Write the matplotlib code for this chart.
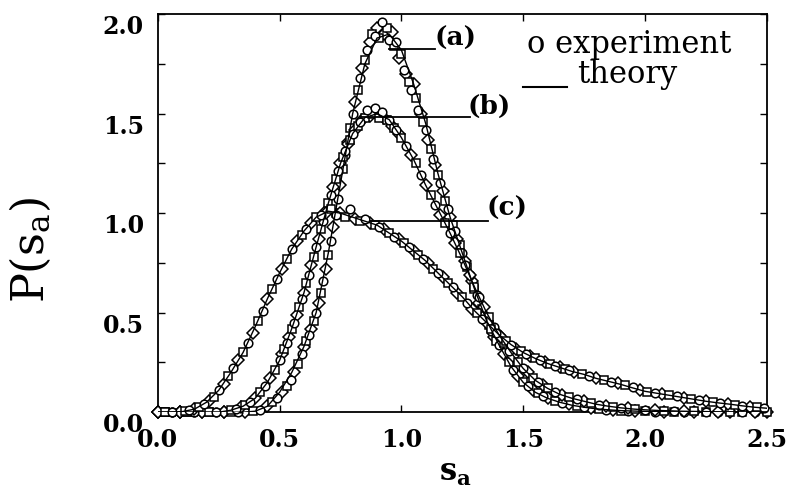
import matplotlib
matplotlib.use("Agg")
import matplotlib.pyplot as plt
from matplotlib.ticker import MultipleLocator, FixedLocator

plt.rcParams['mathtext.fontset'] = 'dejavuserif'
plt.rcParams['font.family'] = ['DejaVu Serif']

# ---------------- data ----------------
x_theory = [0.0, 0.05, 0.1, 0.15, 0.2, 0.25, 0.3, 0.35, 0.4, 0.45, 0.5, 0.55, 0.6, 0.65, 0.7,
            0.75, 0.8, 0.85, 0.9, 0.95, 1.0, 1.05, 1.1, 1.15, 1.2, 1.25, 1.3, 1.35, 1.4, 1.45,
            1.5, 1.55, 1.6, 1.65, 1.7, 1.75, 1.8, 1.85, 1.9, 1.95, 2.0, 2.05, 2.1, 2.15, 2.2,
            2.25, 2.3, 2.35, 2.4, 2.45, 2.5]
theory_a = [0, 0, 0, 0, 0, 0, 0, 0, 0.005, 0.03, 0.1, 0.2, 0.33, 0.5, 0.8,
            1.15, 1.5, 1.75, 1.88, 1.9, 1.82, 1.65, 1.45, 1.2, 0.98, 0.8, 0.62, 0.46, 0.34, 0.23,
            0.15, 0.1, 0.07, 0.05, 0.035, 0.025, 0.017, 0.012, 0.008, 0.006, 0.004, 0.003, 0.002, 0.001, 0.001,
            0, 0, 0, 0, 0, 0]
theory_b = [0, 0, 0, 0, 0, 0, 0.01, 0.03, 0.07, 0.15, 0.26, 0.42, 0.6, 0.83, 1.05,
            1.25, 1.4, 1.48, 1.5, 1.47, 1.38, 1.27, 1.14, 1.02, 0.9, 0.77, 0.63, 0.5, 0.39, 0.3,
            0.22, 0.16, 0.12, 0.09, 0.07, 0.055, 0.04, 0.03, 0.022, 0.016, 0.012, 0.009, 0.007, 0.005, 0.004,
            0.003, 0.002, 0.002, 0.001, 0.001, 0.001]
theory_c = [0, 0, 0.003, 0.015, 0.05, 0.11, 0.2, 0.3, 0.43, 0.57, 0.7, 0.82, 0.91, 0.98, 1.01,
            1.0, 0.98, 0.96, 0.94, 0.9, 0.86, 0.81, 0.76, 0.7, 0.64, 0.58, 0.51, 0.45, 0.39, 0.34,
            0.3, 0.27, 0.245, 0.225, 0.205, 0.19, 0.17, 0.155, 0.14, 0.122, 0.105, 0.095, 0.085, 0.075, 0.065,
            0.055, 0.047, 0.04, 0.032, 0.025, 0.02]

exp_a_x = [0.0, 0.03, 0.06, 0.09, 0.12, 0.15, 0.18, 0.21, 0.24, 0.27, 0.3, 0.33, 0.36, 0.39, 0.42,
           0.45, 0.47, 0.49, 0.51, 0.53, 0.545, 0.56, 0.575, 0.59, 0.6, 0.61, 0.62, 0.63, 0.64, 0.65,
           0.66, 0.67, 0.68, 0.69, 0.7, 0.71, 0.72, 0.73, 0.74, 0.75, 0.76, 0.77, 0.78, 0.79, 0.8,
           0.81, 0.82, 0.83, 0.84, 0.85, 0.86, 0.87, 0.88, 0.89, 0.9, 0.91, 0.92, 0.93, 0.94, 0.95,
           0.96, 0.97, 0.98, 0.99, 1.0, 1.01, 1.02, 1.03, 1.04, 1.05, 1.06, 1.07, 1.08, 1.09, 1.1,
           1.11, 1.12, 1.13, 1.14, 1.15, 1.16, 1.17, 1.18, 1.19, 1.2, 1.21, 1.22, 1.23, 1.24, 1.25,
           1.26, 1.27, 1.28, 1.29, 1.3, 1.31, 1.32, 1.33, 1.34, 1.35, 1.36, 1.37, 1.38, 1.39, 1.4,
           1.42, 1.44, 1.46, 1.48, 1.5, 1.52, 1.54, 1.56, 1.58, 1.6, 1.63, 1.66, 1.69, 1.72, 1.75,
           1.78, 1.81, 1.84, 1.87, 1.9, 1.93, 1.96, 2.0, 2.04, 2.08, 2.12, 2.16, 2.2, 2.25, 2.3,
           2.35, 2.4, 2.45, 2.5]
exp_a_y = [0, 0, 0, 0, 0, 0, 0, 0, 0, 0, 0, 0, 0.002, 0.004, 0.01,
           0.03, 0.05, 0.07, 0.1, 0.13, 0.16, 0.2, 0.24, 0.29, 0.33, 0.36, 0.39, 0.42, 0.46, 0.5,
           0.55, 0.6, 0.66, 0.72, 0.79, 0.86, 0.93, 1.0, 1.07, 1.14, 1.22, 1.29, 1.36, 1.43, 1.5,
           1.56, 1.62, 1.68, 1.73, 1.77, 1.82, 1.86, 1.9, 1.89, 1.93, 1.88, 1.96, 1.9, 1.93, 1.87,
           1.91, 1.84, 1.86, 1.78, 1.8, 1.72, 1.7, 1.66, 1.62, 1.65, 1.58, 1.52, 1.5, 1.46, 1.42,
           1.37, 1.32, 1.27, 1.24, 1.19, 1.15, 1.11, 1.06, 1.02, 0.98, 0.94, 0.91, 0.87, 0.84, 0.8,
           0.76, 0.73, 0.69, 0.66, 0.62, 0.59, 0.55, 0.52, 0.49, 0.46, 0.44, 0.41, 0.38, 0.36, 0.34,
           0.29, 0.25, 0.21, 0.18, 0.15, 0.13, 0.11, 0.095, 0.08, 0.07, 0.058, 0.048, 0.04, 0.032, 0.025,
           0.02, 0.016, 0.012, 0.01, 0.008, 0.007, 0.006, 0.004, 0.003, 0.002, 0.002, 0.001, 0.001, 0, 0,
           0, 0, 0, 0]

exp_b_x = [0.0, 0.03, 0.06, 0.09, 0.12, 0.15, 0.18, 0.21, 0.24, 0.27, 0.3, 0.32, 0.34, 0.36, 0.38,
           0.4, 0.42, 0.44, 0.46, 0.48, 0.5, 0.51, 0.52, 0.53, 0.54, 0.55, 0.56, 0.57, 0.58, 0.59,
           0.6, 0.61, 0.62, 0.63, 0.64, 0.65, 0.66, 0.67, 0.68, 0.69, 0.7, 0.71, 0.72, 0.73, 0.74,
           0.75, 0.76, 0.77, 0.78, 0.79, 0.8, 0.81, 0.82, 0.83, 0.84, 0.85, 0.86, 0.87, 0.88, 0.89,
           0.9, 0.91, 0.92, 0.93, 0.94, 0.95, 0.96, 0.97, 0.98, 0.99, 1.0, 1.02, 1.04, 1.06, 1.08,
           1.1, 1.12, 1.14, 1.16, 1.18, 1.2, 1.22, 1.24, 1.26, 1.28, 1.3, 1.32, 1.34, 1.36, 1.38,
           1.4, 1.42, 1.44, 1.46, 1.48, 1.5, 1.52, 1.54, 1.56, 1.58, 1.6, 1.63, 1.66, 1.69, 1.72,
           1.75, 1.78, 1.81, 1.84, 1.87, 1.9, 1.93, 1.96, 2.0, 2.04, 2.08, 2.12, 2.16, 2.2, 2.25,
           2.3, 2.35, 2.4, 2.45, 2.5]
exp_b_y = [0, 0, 0, 0, 0, 0, 0, 0, 0, 0.002, 0.01, 0.015, 0.025, 0.035, 0.05,
           0.07, 0.1, 0.13, 0.17, 0.21, 0.26, 0.29, 0.32, 0.35, 0.38, 0.42, 0.45, 0.49, 0.53, 0.57,
           0.6, 0.65, 0.69, 0.74, 0.78, 0.83, 0.87, 0.92, 0.96, 1.01, 1.05, 1.09, 1.13, 1.17, 1.21,
           1.25, 1.28, 1.31, 1.35, 1.37, 1.4, 1.42, 1.44, 1.46, 1.47, 1.48, 1.52, 1.49, 1.5, 1.53,
           1.5, 1.48, 1.51, 1.48, 1.47, 1.47, 1.44, 1.43, 1.42, 1.4, 1.38, 1.34, 1.29, 1.25, 1.19,
           1.14, 1.09, 1.04, 0.99, 0.95, 0.9, 0.85, 0.8, 0.74, 0.69, 0.63, 0.58, 0.53, 0.48, 0.43,
           0.39, 0.35, 0.31, 0.28, 0.25, 0.22, 0.2, 0.17, 0.15, 0.135, 0.12, 0.1, 0.085, 0.075, 0.065,
           0.055, 0.045, 0.037, 0.031, 0.026, 0.022, 0.019, 0.016, 0.012, 0.01, 0.008, 0.006, 0.005, 0.004, 0.003,
           0.002, 0.002, 0.001, 0.001, 0.001]

exp_c_x = [0.0, 0.03, 0.06, 0.09, 0.11, 0.13, 0.15, 0.17, 0.19, 0.21, 0.23, 0.25, 0.27, 0.29, 0.31,
           0.33, 0.35, 0.37, 0.39, 0.41, 0.43, 0.45, 0.47, 0.49, 0.51, 0.53, 0.55, 0.57, 0.59, 0.61,
           0.63, 0.65, 0.67, 0.69, 0.71, 0.73, 0.75, 0.77, 0.79, 0.81, 0.83, 0.85, 0.87, 0.89, 0.91,
           0.93, 0.95, 0.97, 0.99, 1.01, 1.03, 1.05, 1.07, 1.09, 1.11, 1.13, 1.15, 1.17, 1.19, 1.21,
           1.23, 1.25, 1.27, 1.29, 1.31, 1.33, 1.35, 1.37, 1.39, 1.41, 1.43, 1.45, 1.47, 1.49, 1.51,
           1.53, 1.55, 1.57, 1.59, 1.61, 1.63, 1.65, 1.67, 1.69, 1.71, 1.74, 1.77, 1.8, 1.83, 1.86,
           1.89, 1.92, 1.95, 1.98, 2.01, 2.04, 2.07, 2.1, 2.13, 2.16, 2.19, 2.22, 2.25, 2.28, 2.31,
           2.34, 2.37, 2.4, 2.43, 2.46, 2.49]
exp_c_y = [0, 0, 0, 0.002, 0.005, 0.009, 0.015, 0.025, 0.04, 0.055, 0.075, 0.11, 0.14, 0.18, 0.22,
           0.26, 0.3, 0.35, 0.4, 0.46, 0.51, 0.57, 0.62, 0.67, 0.72, 0.77, 0.82, 0.86, 0.89, 0.92,
           0.95, 0.98, 0.99, 1.0, 1.02, 0.99, 1.0, 0.98, 1.02, 0.97, 0.96, 0.97, 0.95, 0.94, 0.93,
           0.92, 0.9, 0.88, 0.87, 0.85, 0.83, 0.81, 0.79, 0.77, 0.75, 0.72, 0.7, 0.68, 0.65, 0.63,
           0.6, 0.58, 0.55, 0.52, 0.5, 0.47, 0.45, 0.42, 0.4, 0.38, 0.36, 0.34, 0.32, 0.31, 0.29,
           0.28, 0.27, 0.26, 0.25, 0.24, 0.23, 0.225, 0.215, 0.21, 0.2, 0.19, 0.18, 0.17, 0.16, 0.15,
           0.145, 0.135, 0.125, 0.11, 0.1, 0.097, 0.09, 0.085, 0.08, 0.073, 0.067, 0.06, 0.055, 0.05, 0.045,
           0.041, 0.037, 0.032, 0.028, 0.024, 0.02]

curve_labels = ["(a)", "(b)", "(c)"]
x_ticks = [0.0, 0.5, 1.0, 1.5, 2.0, 2.5]
y_ticks = [0.0, 0.5, 1.0, 1.5, 2.0]

# ---------------- figure ----------------
fig = plt.figure(figsize=(7.97, 4.89), dpi=100)
ax = fig.add_axes([0.198, 0.155, 0.764, 0.814])

marker_cycle = ['D', 's', 'o']
for ex, ey, th in [(exp_a_x, exp_a_y, theory_a), (exp_b_x, exp_b_y, theory_b), (exp_c_x, exp_c_y, theory_c)]:
    for k, m in enumerate(marker_cycle):
        ax.plot(ex[k::3], ey[k::3], linestyle='none', marker=m, markersize=6.2,
                markerfacecolor='white', markeredgecolor='black', markeredgewidth=1.1,
                zorder=3, clip_on=False)
    ax.plot(x_theory, th, color='black', lw=1.0, zorder=4)

# leader lines and curve labels
ax.plot([0.95, 1.14], [1.824, 1.824], color='black', lw=1.3, zorder=5)
ax.plot([0.83, 1.28], [1.482, 1.482], color='black', lw=1.3, zorder=5)
ax.plot([0.87, 1.355], [0.96, 0.96], color='black', lw=1.3, zorder=5)
label_font = dict(family='DejaVu Serif', fontweight='bold', fontsize=19, va='center', ha='left')
ax.text(1.135, 1.885, curve_labels[0], **label_font)
ax.text(1.27, 1.543, curve_labels[1], **label_font)
ax.text(1.35, 1.03, curve_labels[2], **label_font)

# legend-like annotations
ax.text(1.515, 1.81, "o experiment", family='DejaVu Serif', fontsize=22, va='baseline', ha='left')
ax.plot([1.5, 1.68], [1.633, 1.633], color='black', lw=1.5)
ax.text(1.72, 1.66, "theory", family='DejaVu Serif', fontsize=22, va='baseline', ha='left')

ax.set_xlim(0, 2.5)
ax.set_ylim(0, 2.0)
ax.xaxis.set_major_locator(FixedLocator(x_ticks))
ax.yaxis.set_major_locator(FixedLocator(y_ticks))
ax.yaxis.set_minor_locator(MultipleLocator(0.25))
ax.set_xticklabels([f"{v:.1f}" for v in x_ticks])
ax.set_yticklabels([f"{v:.1f}" for v in y_ticks])

ax.tick_params(which='both', direction='in', top=True, right=True, length=5, width=1.0)
ax.tick_params(axis='x', pad=11)
ax.tick_params(axis='y', pad=10)
for lbl in ax.get_xticklabels() + ax.get_yticklabels():
    lbl.set_fontfamily('DejaVu Serif')
    lbl.set_fontweight('bold')
    lbl.set_fontsize(17)
for lbl in ax.get_yticklabels():
    lbl.set_va('top')

for sp in ax.spines.values():
    sp.set_linewidth(1.3)

ax.set_xlabel(r'$\mathbf{s}_\mathbf{a}$', fontsize=22)
ax.xaxis.set_label_coords(0.488, -0.11)
ax.set_ylabel(r'$\mathrm{P}(\mathrm{s}_\mathrm{a})$', fontsize=32)
ax.yaxis.set_label_coords(-0.172, 0.41)

fig.savefig("out.png", dpi=100)
